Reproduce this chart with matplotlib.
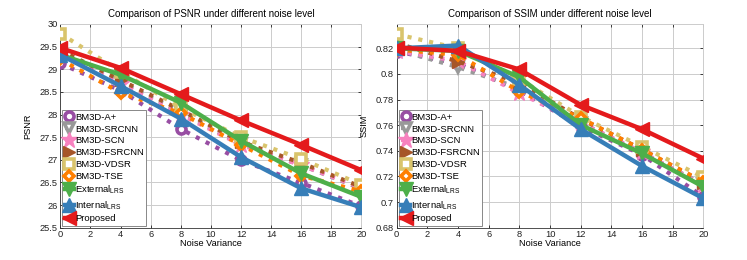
import matplotlib
matplotlib.use("Agg")
import matplotlib.pyplot as plt

plt.rcParams['font.family'] = ['Liberation Sans', 'DejaVu Sans']
plt.rcParams['mathtext.fontset'] = 'custom'
plt.rcParams['mathtext.rm'] = 'Liberation Sans'

noise = [0, 4, 8, 12, 16, 20]
labels = ['BM3D-A+', 'BM3D-SRCNN', 'BM3D-SCN', 'BM3D-FSRCNN', 'BM3D-VDSR', 'BM3D-TSE',
          r'External$_{\mathrm{LRS}}$', r'Internal$_{\mathrm{LRS}}$', 'Proposed']

psnr_a = [29.13, 28.53, 27.68, 26.99, 26.49, 25.97]
psnr_srcnn = [29.38, 28.72, 28.05, 27.35, 26.88, 26.36]
psnr_scn = [29.36, 28.68, 28.00, 27.33, 26.88, 26.38]
psnr_fsrcnn = [29.42, 28.76, 28.10, 27.40, 26.93, 26.40]
psnr_vdsr = [29.79, 28.95, 28.15, 27.50, 27.02, 26.45]
psnr_tse = [29.22, 28.48, 28.03, 27.33, 26.65, 26.30]
psnr_ext = [29.32, 28.88, 28.26, 27.42, 26.70, 26.18]
psnr_int = [29.32, 28.63, 27.91, 27.06, 26.37, 25.95]
psnr_prop = [29.47, 29.03, 28.45, 27.87, 27.33, 26.77]

ssim_a = [0.8175, 0.808, 0.787, 0.759, 0.737, 0.7042]
ssim_srcnn = [0.819, 0.8053, 0.789, 0.762, 0.738, 0.714]
ssim_scn = [0.818, 0.810, 0.785, 0.762, 0.739, 0.713]
ssim_fsrcnn = [0.824, 0.8097, 0.793, 0.765, 0.741, 0.715]
ssim_vdsr = [0.831, 0.820, 0.796, 0.7667, 0.7433, 0.7194]
ssim_tse = [0.819, 0.815, 0.7863, 0.7655, 0.7410, 0.7159]
ssim_ext = [0.820, 0.818, 0.7975, 0.7602, 0.7380, 0.712]
ssim_int = [0.820, 0.8222, 0.7915, 0.7569, 0.7282, 0.7030]
ssim_prop = [0.8206, 0.8180, 0.8035, 0.7759, 0.7569, 0.7340]

psnr_series = [psnr_a, psnr_srcnn, psnr_scn, psnr_fsrcnn, psnr_vdsr, psnr_tse, psnr_ext, psnr_int, psnr_prop]
ssim_series = [ssim_a, ssim_srcnn, ssim_scn, ssim_fsrcnn, ssim_vdsr, ssim_tse, ssim_ext, ssim_int, ssim_prop]

colors = ['#984ea3', '#999999', '#f781bf', '#a65628', '#d9c46c', '#ff7f00', '#4daf4a', '#377eb8', '#e41a1c']
markers = ['o', 'v', '*', '>', 's', 'D', 'v', '^', '<']
styles = [':', ':', ':', ':', ':', ':', '-', '-', '-']
hollow = [True, True, False, False, True, True, False, False, False]
msizes = [8, 9, 12, 9, 8, 7, 10, 10, 10]

fig = plt.figure(figsize=(7.47, 2.6), dpi=100)
ax1 = fig.add_axes([0.0807, 0.1242, 0.4032, 0.7835])
ax2 = fig.add_axes([0.5311, 0.1242, 0.4104, 0.7835])

def draw(ax, series, title, ylabel, ylim, yticks, yfmt):
    handles = []
    for i, ys in enumerate(series):
        if hollow[i]:
            mfc, mew, ms = 'white', 2.6, msizes[i] - 1.5
        else:
            mfc, mew, ms = colors[i], 1.0, msizes[i]
        h, = ax.plot(noise, ys, linestyle=styles[i], color=colors[i],
                     lw=3.2 if styles[i] == '-' else 3.0,
                     marker=markers[i], markersize=ms, mfc=mfc, mec=colors[i],
                     mew=mew, zorder=3 + i * 0.1)
        handles.append(h)
    ax.set_xlim(0, 20)
    ax.set_ylim(*ylim)
    ax.set_xticks(range(0, 21, 2))
    ax.set_yticks(yticks)
    ax.set_yticklabels([yfmt(v) for v in yticks])
    ax.grid(True, color='#cccccc', lw=0.7)
    ax.set_axisbelow(True)
    ax.tick_params(direction='in', length=2.5, width=0.6, labelsize=6.7, pad=2,
                   top=True, right=True, colors='#222222')
    for s in ['top', 'right']:
        ax.spines[s].set_color('#cccccc')
        ax.spines[s].set_linewidth(0.7)
    for s in ['left', 'bottom']:
        ax.spines[s].set_color('#333333')
        ax.spines[s].set_linewidth(0.6)
    ax.set_title(title, fontsize=7.0, pad=5)
    ax.set_xlabel('Noise Variance', fontsize=6.6, labelpad=0)
    ax.set_ylabel(ylabel, fontsize=6.6, labelpad=5)
    leg = ax.legend(handles, labels, loc='lower left', fontsize=6.8, handlelength=1.0,
                    handletextpad=0.1, labelspacing=0.3, borderpad=0.25, borderaxespad=0.2,
                    fancybox=False, framealpha=1.0, edgecolor='#888888')
    leg.get_frame().set_linewidth(0.7)
    leg.set_zorder(10)

def fmt_psnr(v):
    s = ('%.1f' % v)
    return s[:-2] if s.endswith('.0') else s

def fmt_ssim(v):
    s = ('%.2f' % v).rstrip('0')
    return s

psnr_ticks = [25.5, 26, 26.5, 27, 27.5, 28, 28.5, 29, 29.5, 30]
ssim_ticks = [0.68, 0.70, 0.72, 0.74, 0.76, 0.78, 0.80, 0.82]

draw(ax1, psnr_series, 'Comparison of PSNR under different noise level', 'PSNR', (25.5, 30), psnr_ticks, fmt_psnr)
draw(ax2, ssim_series, 'Comparison of SSIM under different noise level', 'SSIM', (0.68, 0.839), ssim_ticks, fmt_ssim)

fig.savefig('out.png', dpi=100)
